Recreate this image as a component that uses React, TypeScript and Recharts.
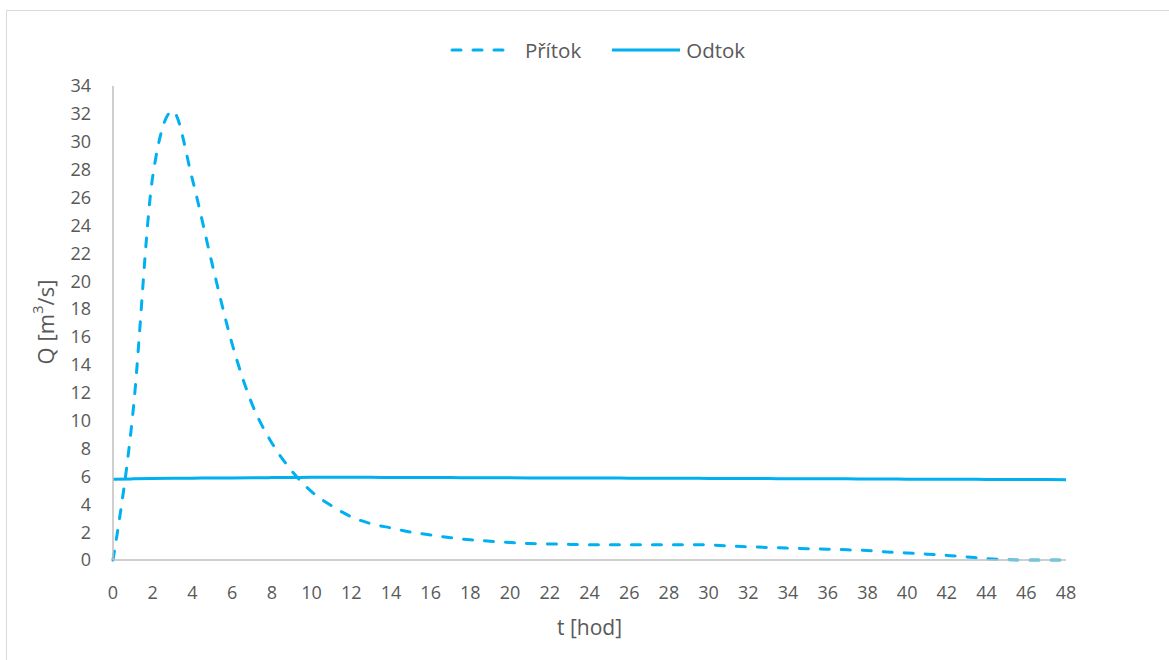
import React from 'react';
import { LineChart, Line, XAxis, YAxis, Legend, Label } from 'recharts';

// hodiny 0..48
const hours: number[] = [
  0, 1, 2, 3, 4, 5, 6, 7, 8, 9, 10, 11, 12, 13, 14, 15, 16, 17, 18, 19, 20, 21, 22, 23, 24,
  25, 26, 27, 28, 29, 30, 31, 32, 33, 34, 35, 36, 37, 38, 39, 40, 41, 42, 43, 44, 45, 46, 47, 48,
];

const pritok: number[] = [
  0, 10.5, 27.5, 32.2, 27.3, 21.2, 15.5, 11.2, 8.4, 6.4, 4.9, 3.9, 3.1, 2.6, 2.3, 2.0, 1.8,
  1.6, 1.45, 1.35, 1.25, 1.18, 1.15, 1.12, 1.1, 1.1, 1.1, 1.1, 1.1, 1.1, 1.08, 1.0, 0.95, 0.9,
  0.85, 0.8, 0.78, 0.73, 0.68, 0.58, 0.5, 0.42, 0.33, 0.22, 0.1, 0.03, 0, 0, 0,
];

const odtok: number[] = [
  5.8, 5.82, 5.84, 5.86, 5.87, 5.88, 5.89, 5.9, 5.91, 5.92, 5.93, 5.93, 5.93, 5.93, 5.92, 5.92,
  5.91, 5.91, 5.9, 5.9, 5.9, 5.89, 5.89, 5.88, 5.88, 5.88, 5.87, 5.87, 5.86, 5.86, 5.85, 5.85,
  5.84, 5.84, 5.83, 5.83, 5.82, 5.82, 5.81, 5.81, 5.8, 5.8, 5.79, 5.79, 5.78, 5.78, 5.77, 5.77, 5.76,
];

const xTicks: number[] = [0, 2, 4, 6, 8, 10, 12, 14, 16, 18, 20, 22, 24, 26, 28, 30, 32, 34, 36, 38, 40, 42, 44, 46, 48];
const yTicks: number[] = [0, 2, 4, 6, 8, 10, 12, 14, 16, 18, 20, 22, 24, 26, 28, 30, 32, 34];

const data = hours.map((t, i) => ({ t, pritok: pritok[i], odtok: odtok[i] }));

const BLUE = '#00b0f0';
const TEXT = '#595959';
const FONT = '"Open Sans", sans-serif';

const LegendContent = () => (
  <div style={{ display: 'flex', justifyContent: 'center', alignItems: 'center', fontFamily: FONT, fontSize: 20.5, color: TEXT, paddingLeft: 26 }}>
    <svg width={64} height={10} style={{ marginRight: 11 }}>
      <line x1={2} y1={5} x2={62} y2={5} stroke={BLUE} strokeWidth={3} strokeDasharray="9 12" strokeLinecap="round" />
    </svg>
    <span style={{ marginRight: 31 }}>Přítok</span>
    <svg width={68} height={10} style={{ marginRight: 6 }}>
      <line x1={0} y1={5} x2={68} y2={5} stroke={BLUE} strokeWidth={3} />
    </svg>
    <span>Odtok</span>
  </div>
);

// popisek osy Y s horním indexem
const YTitle = () => (
  <text
    x={45}
    y={322}
    transform="rotate(-90 45 322)"
    textAnchor="middle"
    dominantBaseline="central"
    fill={TEXT}
    fontSize={22}
    fontFamily={FONT}
  >
    Q [m
    <tspan fontSize={15} dy={-8}>3</tspan>
    <tspan dy={8}>/s]</tspan>
  </text>
);

export default function App() {
  return (
    <div style={{ position: 'absolute', left: 0, top: 0, width: 1169, height: 660, background: '#fff' }}>
      <div
        style={{
          position: 'absolute',
          left: 6,
          top: 10,
          width: 1163,
          height: 650,
          borderTop: '1px solid #d9d9d9',
          borderLeft: '1px solid #d9d9d9',
        }}
      />
      <LineChart
        width={1169}
        height={660}
        data={data}
        margin={{ top: 58, right: 103, bottom: 60, left: 53 }}
        style={{ position: 'absolute', left: 0, top: 0, fontFamily: FONT }}
      >
        <XAxis
          dataKey="t"
          type="number"
          domain={[0, 48]}
          ticks={xTicks}
          interval={0}
          height={40}
          tickLine={false}
          tickSize={0}
          tickMargin={26}
          axisLine={{ stroke: '#bfbfbf', strokeWidth: 1.5 }}
          tick={{ fill: TEXT, fontSize: 18 }}
        >
          <Label value="t [hod]" position="bottom" offset={20} fill={TEXT} fontSize={21} />
        </XAxis>
        <YAxis
          type="number"
          domain={[0, 34]}
          ticks={yTicks}
          interval={0}
          width={60}
          tickLine={false}
          tickSize={0}
          tickMargin={22}
          axisLine={{ stroke: '#bfbfbf', strokeWidth: 1.5 }}
          tick={{ fill: TEXT, fontSize: 18 }}
        >
          <Label content={YTitle} />
        </YAxis>
        <Legend verticalAlign="top" content={LegendContent} wrapperStyle={{ top: 36, left: 0, width: 1169 }} />
        <Line
          dataKey="pritok"
          name="Přítok"
          type="monotone"
          stroke={BLUE}
          strokeWidth={3}
          strokeDasharray="9 12"
          strokeLinecap="round"
          dot={false}
          isAnimationActive={false}
        />
        <Line
          dataKey="odtok"
          name="Odtok"
          type="monotone"
          stroke={BLUE}
          strokeWidth={3}
          dot={false}
          isAnimationActive={false}
        />
      </LineChart>
    </div>
  );
}
